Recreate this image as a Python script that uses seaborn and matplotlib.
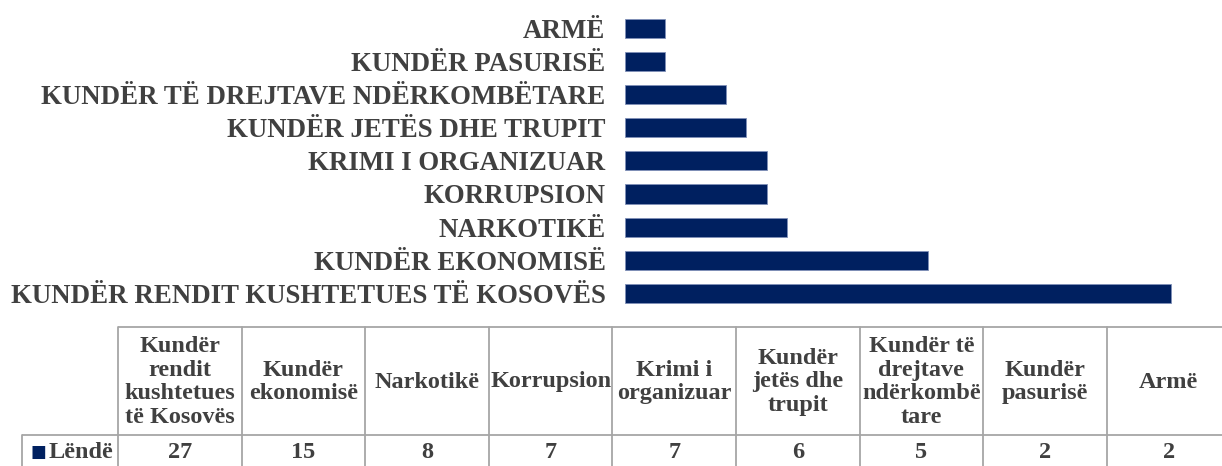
import matplotlib
matplotlib.use("Agg")
import matplotlib.pyplot as plt
import seaborn as sns
import pandas as pd

# ---- data ----
bar_labels = ["KUNDËR RENDIT KUSHTETUES TË KOSOVËS", "KUNDËR EKONOMISË", "NARKOTIKË",
              "KORRUPSION", "KRIMI I ORGANIZUAR", "KUNDËR JETËS DHE TRUPIT",
              "KUNDËR TË DREJTAVE NDËRKOMBËTARE", "KUNDËR PASURISË", "ARMË"]
table_headers = ["Kundër\nrendit\nkushtetues\ntë Kosovës", "Kundër\nekonomisë", "Narkotikë",
                 "Korrupsion", "Krimi i\norganizuar", "Kundër\njetës dhe\ntrupit",
                 "Kundër të\ndrejtave\nndërkombë\ntare", "Kundër\npasurisë", "Armë"]
values = [27, 15, 8, 7, 7, 6, 5, 2, 2]
series_name = "Lëndë"

NAVY = "#002060"
TXT = "#404040"
GRID = "#A6A6A6"
FONT = "Liberation Serif"

sns.set_theme(style="white")
plt.rcParams["font.family"] = [FONT, "DejaVu Serif"]

W, H = 1222, 466
fig = plt.figure(figsize=(W / 100, H / 100), dpi=100)

# ---- bar chart ----
ax = fig.add_axes([625 / W, (H - 310) / H, 606.7 / W, 298.3 / H])
df = pd.DataFrame({"cat": bar_labels, "val": values})
sns.barplot(data=df, x="val", y="cat", order=bar_labels[::-1], orient="h",
            color=NAVY, width=0.58, saturation=1, edgecolor="#8090B8",
            linewidth=0.6, ax=ax)
ax.set_xlim(0, 30)
ax.set_ylim(8.5, -0.5)
ax.set_xlabel("")
ax.set_ylabel("")
ax.set_xticks([])
for s in ax.spines.values():
    s.set_visible(False)
ax.tick_params(axis="y", length=0, pad=14, labelsize=19.4, labelcolor=TXT)
for t in ax.get_yticklabels():
    t.set_fontweight("bold")
    t.set_family(FONT)

# ---- data table ----
tx_left, tx_right = 22, 1230.4
ty_top, ty_bot = 327, 467
tax = fig.add_axes([tx_left / W, (H - ty_bot) / H, (tx_right - tx_left) / W, (ty_bot - ty_top) / H])
leg_w = (118 - 22) / 123.6
n = len(values)
tax.set_xlim(-leg_w, n)
tax.set_ylim(ty_bot - ty_top, 0)
tax.axis("off")
hdr_bot = 435 - ty_top
row_h = ty_bot - ty_top

lw = 1.3
tax.plot([0, n + 1], [0, 0], color=GRID, lw=lw, clip_on=False, solid_capstyle="butt")
tax.plot([-leg_w, n + 1], [hdr_bot, hdr_bot], color=GRID, lw=lw, clip_on=False, solid_capstyle="butt")
tax.plot([-leg_w, -leg_w], [hdr_bot, row_h], color=GRID, lw=lw, clip_on=False)
for i in range(n + 1):
    tax.plot([i, i], [0, row_h], color=GRID, lw=lw, clip_on=False)

for i, (h, v) in enumerate(zip(table_headers, values)):
    tax.text(i + 0.5, hdr_bot / 2 + 1, h, ha="center", va="center", fontsize=17.5,
             fontweight="bold", color=TXT, linespacing=1.16, family=FONT)
    tax.text(i + 0.5, (hdr_bot + row_h) / 2 + 1, str(v), ha="center", va="center",
             fontsize=17.5, fontweight="bold", color=TXT, family=FONT)

# legend key in table
tax.text(-leg_w + 0.07, (hdr_bot + row_h) / 2 + 1, "■", ha="left", va="center",
         fontsize=12, color=NAVY, family="DejaVu Sans")
tax.text(-0.04, (hdr_bot + row_h) / 2 + 1, series_name, ha="right", va="center",
         fontsize=17.5, fontweight="bold", color=TXT, family=FONT)

fig.savefig("out.png", dpi=100)
